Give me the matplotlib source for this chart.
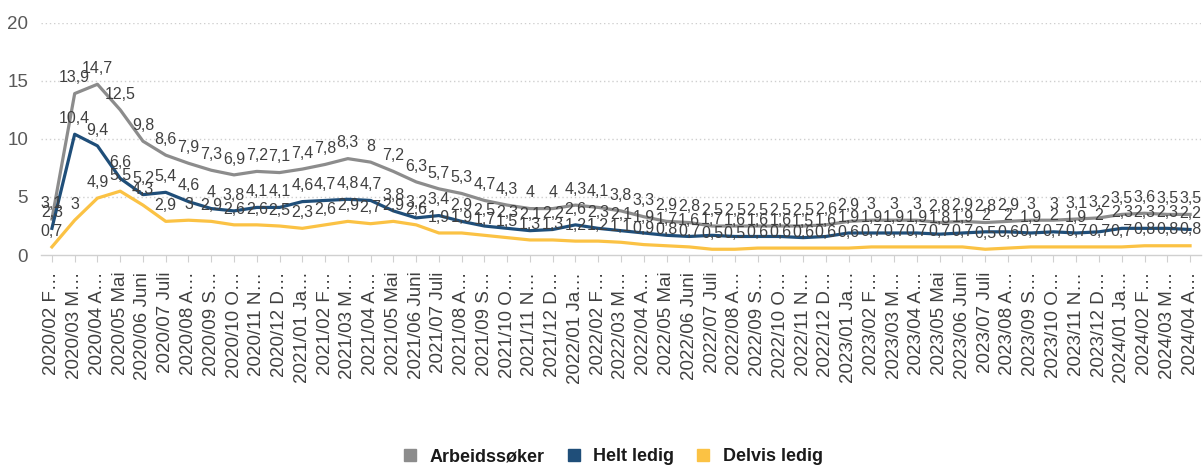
import matplotlib
matplotlib.use("Agg")
import matplotlib.pyplot as plt
from matplotlib.lines import Line2D

plt.rcParams['font.family'] = ['Liberation Sans', 'DejaVu Sans']

labels = [
    "2020/02 F…", "2020/03 M…", "2020/04 A…", "2020/05 Mai", "2020/06 Juni", "2020/07 Juli",
    "2020/08 A…", "2020/09 S…", "2020/10 O…", "2020/11 N…", "2020/12 D…",
    "2021/01 Ja…", "2021/02 F…", "2021/03 M…", "2021/04 A…", "2021/05 Mai", "2021/06 Juni",
    "2021/07 Juli", "2021/08 A…", "2021/09 S…", "2021/10 O…", "2021/11 N…", "2021/12 D…",
    "2022/01 Ja…", "2022/02 F…", "2022/03 M…", "2022/04 A…", "2022/05 Mai", "2022/06 Juni",
    "2022/07 Juli", "2022/08 A…", "2022/09 S…", "2022/10 O…", "2022/11 N…", "2022/12 D…",
    "2023/01 Ja…", "2023/02 F…", "2023/03 M…", "2023/04 A…", "2023/05 Mai", "2023/06 Juni",
    "2023/07 Juli", "2023/08 A…", "2023/09 S…", "2023/10 O…", "2023/11 N…", "2023/12 D…",
    "2024/01 Ja…", "2024/02 F…", "2024/03 M…", "2024/04 A…",
]

arbeidssoker = [3.1, 13.9, 14.7, 12.5, 9.8, 8.6, 7.9, 7.3, 6.9, 7.2, 7.1, 7.4, 7.8, 8.3, 8,
                7.2, 6.3, 5.7, 5.3, 4.7, 4.3, 4, 4, 4.3, 4.1, 3.8, 3.3, 2.9, 2.8, 2.5, 2.5,
                2.5, 2.5, 2.5, 2.6, 2.9, 3, 3, 3, 2.8, 2.9, 2.8, 2.9, 3, 3, 3.1, 3.2, 3.5,
                3.6, 3.5, 3.5]
helt_ledig = [2.3, 10.4, 9.4, 6.6, 5.2, 5.4, 4.6, 4, 3.8, 4.1, 4.1, 4.6, 4.7, 4.8, 4.7,
              3.8, 3.2, 3.4, 2.9, 2.5, 2.3, 2.1, 2.2, 2.6, 2.3, 2.1, 1.9, 1.7, 1.6, 1.7, 1.6,
              1.6, 1.6, 1.5, 1.6, 1.9, 1.9, 1.9, 1.9, 1.8, 1.9, 2, 2, 1.9, 2, 1.9, 2, 2.3,
              2.3, 2.3, 2.2]
delvis_ledig = [0.7, 3, 4.9, 5.5, 4.3, 2.9, 3, 2.9, 2.6, 2.6, 2.5, 2.3, 2.6, 2.9, 2.7,
                2.9, 2.6, 1.9, 1.9, 1.7, 1.5, 1.3, 1.3, 1.2, 1.2, 1.1, 0.9, 0.8, 0.7, 0.5, 0.5,
                0.6, 0.6, 0.6, 0.6, 0.6, 0.7, 0.7, 0.7, 0.7, 0.7, 0.5, 0.6, 0.7, 0.7, 0.7, 0.7,
                0.7, 0.8, 0.8, 0.8]

series_names = ["Arbeidssøker", "Helt ledig", "Delvis ledig"]
series_values = [arbeidssoker, helt_ledig, delvis_ledig]
colors = ["#8c8c8c", "#1f4e79", "#fbc244"]
y_ticks = [0, 5, 10, 15, 20]

fig = plt.figure(figsize=(12.03, 4.68), dpi=100)
ax = fig.add_axes([0.0337, 0.455, 0.965, 0.4965])

x = list(range(len(labels)))
for vals, col, z in zip(series_values, colors, [3, 4, 2]):
    ax.plot(x, vals, color=col, linewidth=2.3, zorder=z, solid_joinstyle='round')

for vals in series_values:
    for xi, v in zip(x, vals):
        txt = ("%g" % v).replace(".", ",")
        ax.annotate(txt, (xi, v), xytext=(0, 6), textcoords="offset points",
                    ha="center", va="bottom", fontsize=11.5, color="#404040", zorder=6)

ax.set_xlim(-0.5, len(labels) - 0.5)
ax.set_ylim(0, 20)
ax.set_yticks(y_ticks)
ax.set_yticklabels([str(t) for t in y_ticks], fontsize=13.5, color="#595959")
ax.set_xticks(x)
ax.set_xticklabels(labels, rotation=90, fontsize=13.5, color="#404040")
ax.tick_params(axis='x', length=5, color="#d0d0d0", pad=7)
ax.tick_params(axis='y', length=0, pad=9)

for s in ["top", "right", "left"]:
    ax.spines[s].set_visible(False)
ax.spines["bottom"].set_color("#d0d0d0")
ax.spines["bottom"].set_linewidth(1.0)

for t in y_ticks[1:]:
    ax.axhline(t, color="#cfcfcf", linewidth=1.0, linestyle=(0, (1, 2)), zorder=0)

handles = [Line2D([], [], marker='s', linestyle='', color=c, markersize=9) for c in colors]
leg = fig.legend(handles, series_names, loc="center", bbox_to_anchor=(0.505, 0.024),
                 ncol=3, frameon=False, handletextpad=0.1, columnspacing=0.6,
                 prop={'weight': 'bold', 'size': 13})
for t in leg.get_texts():
    t.set_color("#1a1a1a")

fig.savefig("out.png", dpi=100)
